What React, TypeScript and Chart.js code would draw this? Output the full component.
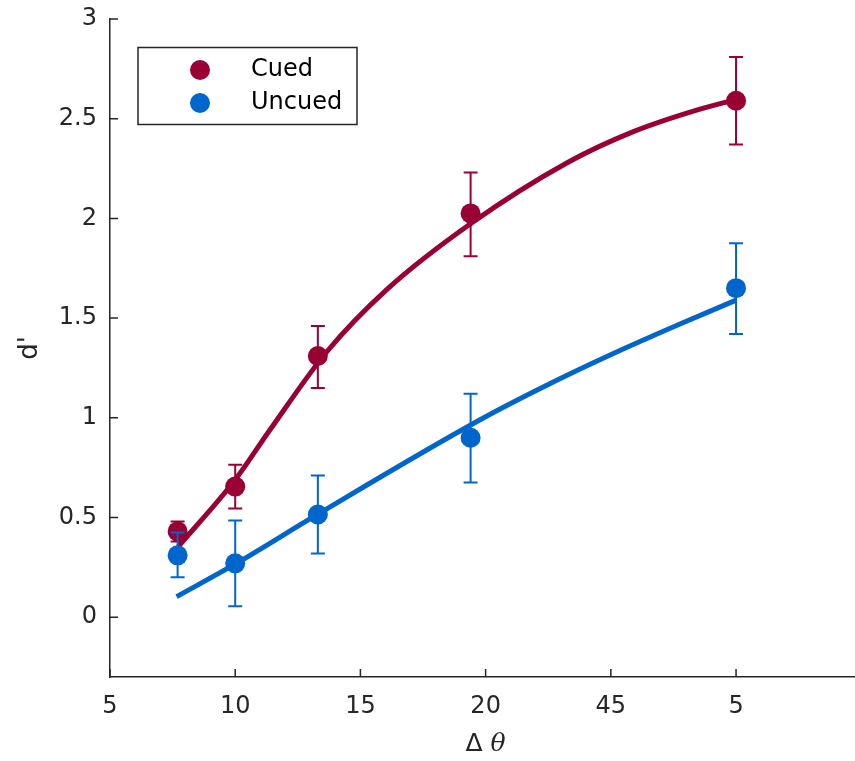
import React, { useEffect, useRef } from 'react';
import { Chart, registerables } from 'chart.js';

Chart.register(...registerables);

// ---- data ----
const seriesLabels = ['Cued', 'Uncued'];
const seriesColors = ['#990033', '#0066CC'];
const xValues = [7.7, 10, 13.3, 19.4, 30];
const cuedMean = [0.43, 0.655, 1.31, 2.025, 2.59];
const cuedLow = [0.38, 0.545, 1.15, 1.81, 2.37];
const cuedHigh = [0.48, 0.765, 1.46, 2.23, 2.81];
const uncuedMean = [0.31, 0.27, 0.515, 0.9, 1.65];
const uncuedLow = [0.2, 0.055, 0.32, 0.675, 1.42];
const uncuedHigh = [0.425, 0.485, 0.71, 1.12, 1.875];
const cuedFitX = [7.72, 10, 11.39, 13.65, 16.05, 19.44, 23.24, 25.9, 28.56, 30];
const cuedFitY = [0.353, 0.689, 0.94, 1.33, 1.643, 1.977, 2.278, 2.435, 2.548, 2.596];
const uncuedFitX = [7.66, 10.06, 13.25, 19.78, 22.44, 25.1, 27.76, 30];
const uncuedFitY = [0.103, 0.271, 0.513, 0.99, 1.163, 1.322, 1.47, 1.59];
const xTickValues = [5, 10, 15, 20, 25, 30];
const xTickLabels = ['5', '10', '15', '20', '45', '5'];
const yTickValues = [0, 0.5, 1, 1.5, 2, 2.5, 3];
const yTitle = "d'";
const xTitleParts = ['Δ', 'θ'];

const AXIS = '#262626';
const FONT = 'DejaVu Sans';
const W = 855;
const H = 761;

const pts = (xs: number[], ys: number[]) => xs.map((x, i) => ({ x, y: ys[i] }));

const extrasPlugin = {
  id: 'extras',
  beforeDatasetDraw(chart: any, args: any) {
    const ds = chart.data.datasets[args.index];
    if (!ds.errLow) return;
    const ctx = chart.ctx;
    const ys = chart.scales.y;
    ctx.save();
    ctx.strokeStyle = ds.errColor;
    ctx.lineWidth = 2;
    args.meta.data.forEach((pt: any, i: number) => {
      const x = pt.x;
      const yl = ys.getPixelForValue(ds.errLow[i]);
      const yh = ys.getPixelForValue(ds.errHigh[i]);
      ctx.beginPath();
      ctx.moveTo(x, yl);
      ctx.lineTo(x, yh);
      ctx.moveTo(x - 7, yl);
      ctx.lineTo(x + 7, yl);
      ctx.moveTo(x - 7, yh);
      ctx.lineTo(x + 7, yh);
      ctx.stroke();
    });
    ctx.restore();
  },
  afterDraw(chart: any) {
    const ctx = chart.ctx;
    const ca = chart.chartArea;
    const xs = chart.scales.x;
    const ys = chart.scales.y;
    ctx.save();
    // inward ticks
    ctx.strokeStyle = AXIS;
    ctx.lineWidth = 1.5;
    ctx.beginPath();
    yTickValues.forEach((v) => {
      const py = ys.getPixelForValue(v);
      ctx.moveTo(ca.left, py);
      ctx.lineTo(ca.left + 8, py);
    });
    xTickValues.forEach((v) => {
      const px = xs.getPixelForValue(v);
      ctx.moveTo(px, ca.bottom);
      ctx.lineTo(px, ca.bottom - 8);
    });
    ctx.stroke();

    // legend
    const bx = ca.left + 28;
    const by = ca.top + 28.5;
    const bw = 219;
    const bh = 77;
    ctx.fillStyle = '#ffffff';
    ctx.fillRect(bx, by, bw, bh);
    ctx.strokeStyle = AXIS;
    ctx.lineWidth = 1.5;
    ctx.strokeRect(bx, by, bw, bh);
    seriesLabels.forEach((lab, i) => {
      const cy = by + 22.5 + i * 33;
      ctx.beginPath();
      ctx.fillStyle = seriesColors[i];
      ctx.arc(bx + 62, cy, 10, 0, Math.PI * 2);
      ctx.fill();
      ctx.fillStyle = '#000000';
      ctx.font = `24px "${FONT}"`;
      ctx.textAlign = 'left';
      ctx.textBaseline = 'middle';
      ctx.fillText(lab, bx + 113, cy);
    });

    // x title: Δ θ
    const f1 = `25px "${FONT}"`;
    const f2 = `italic 25px "DejaVu Serif"`;
    ctx.font = f1;
    const w1 = ctx.measureText(xTitleParts[0] + ' ').width;
    ctx.font = f2;
    const w2 = ctx.measureText(xTitleParts[1]).width;
    const cx = (ca.left + ca.right) / 2 + 3;
    const sx = cx - (w1 + w2) / 2;
    const ty = 751;
    ctx.fillStyle = AXIS;
    ctx.textAlign = 'left';
    ctx.textBaseline = 'alphabetic';
    ctx.font = f1;
    ctx.fillText(xTitleParts[0] + ' ', sx, ty);
    ctx.font = f2;
    ctx.fillText(xTitleParts[1], sx + w1, ty);
    ctx.restore();
  },
};

const zeroPad = (s: any) => {
  s.paddingLeft = 0;
  s.paddingRight = 0;
  s.paddingTop = 0;
  s.paddingBottom = 0;
};

export default function App() {
  const ref = useRef<HTMLCanvasElement | null>(null);
  useEffect(() => {
    if (!ref.current) return;
    const chart = new Chart(ref.current, {
      type: 'scatter',
      data: {
        datasets: [
          {
            label: seriesLabels[1] + ' fit',
            data: pts(uncuedFitX, uncuedFitY),
            showLine: true,
            borderColor: seriesColors[1],
            borderWidth: 5,
            pointRadius: 0,
            cubicInterpolationMode: 'monotone',
            order: 1,
          } as any,
          {
            label: seriesLabels[1],
            data: pts(xValues, uncuedMean),
            backgroundColor: seriesColors[1],
            borderWidth: 0,
            pointRadius: 10,
            errLow: uncuedLow,
            errHigh: uncuedHigh,
            errColor: seriesColors[1],
            order: 2,
          } as any,
          {
            label: seriesLabels[0] + ' fit',
            data: pts(cuedFitX, cuedFitY),
            showLine: true,
            borderColor: seriesColors[0],
            borderWidth: 5,
            pointRadius: 0,
            cubicInterpolationMode: 'monotone',
            order: 3,
          } as any,
          {
            label: seriesLabels[0],
            data: pts(xValues, cuedMean),
            backgroundColor: seriesColors[0],
            borderWidth: 0,
            pointRadius: 10,
            errLow: cuedLow,
            errHigh: cuedHigh,
            errColor: seriesColors[0],
            order: 4,
          } as any,
        ],
      },
      options: {
        animation: false,
        responsive: true,
        maintainAspectRatio: false,
        layout: { autoPadding: false, padding: { top: 19, left: 0, right: 0, bottom: 0 } },
        plugins: { legend: { display: false }, tooltip: { enabled: false } },
        scales: {
          x: {
            type: 'linear',
            min: 5,
            max: 34.75,
            afterFit: (s: any) => {
              s.height = 84;
              zeroPad(s);
            },
            grid: { display: false, drawTicks: false },
            border: { display: true, color: AXIS, width: 1.5 },
            ticks: {
              stepSize: 5,
              includeBounds: false,
              autoSkip: false,
              maxRotation: 0,
              padding: 15,
              color: AXIS,
              font: { family: FONT, size: 24 },
              callback: (v: any) => {
                const i = xTickValues.indexOf(Number(v));
                return i >= 0 ? xTickLabels[i] : '';
              },
            },
          },
          y: {
            type: 'linear',
            min: -0.3,
            max: 3,
            afterFit: (s: any) => {
              s.width = 110;
              zeroPad(s);
            },
            grid: { display: false, drawTicks: false },
            border: { display: true, color: AXIS, width: 1.5 },
            ticks: {
              stepSize: 0.5,
              includeBounds: false,
              autoSkip: false,
              padding: 13,
              color: AXIS,
              font: { family: FONT, size: 24 },
              callback: (v: any) => (yTickValues.includes(Number(v)) ? String(v) : ''),
            },
            title: {
              display: true,
              text: yTitle,
              color: AXIS,
              font: { family: FONT, size: 26 },
              padding: { top: 15, bottom: 0 },
            },
          },
        },
      } as any,
      plugins: [extrasPlugin],
    });
    return () => chart.destroy();
  }, []);
  return (
    <div style={{ position: 'fixed', left: 0, top: 0, width: W, height: H, background: '#fff' }}>
      <canvas ref={ref} />
    </div>
  );
}
